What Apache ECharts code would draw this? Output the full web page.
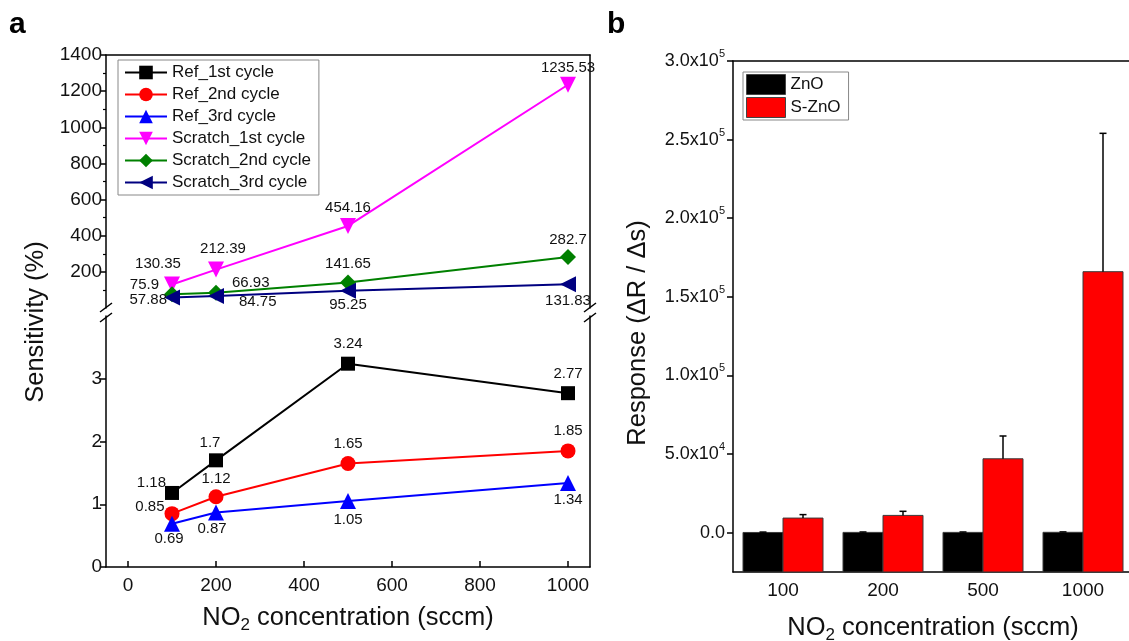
<!DOCTYPE html>
<html>
<head>
<meta charset="utf-8">
<script src="https://cdn.jsdelivr.net/npm/echarts@6/dist/echarts.min.js"></script>
<style>
  html, body { margin: 0; padding: 0; background: #fff; }
  #chart { width: 1129px; height: 641px; }
</style>
</head>
<body>
<div id="chart"></div>
<script>
// ---- panel a : sensitivity vs NO2 concentration ----
const concentrations = [100, 200, 500, 1000];
const ref1 = [1.18, 1.7, 3.24, 2.77];
const ref2 = [0.85, 1.12, 1.65, 1.85];
const ref3 = [0.69, 0.87, 1.05, 1.34];
const scratch1 = [130.35, 212.39, 454.16, 1235.53];
const scratch2 = [75.9, 84.75, 141.65, 282.7];
const scratch3 = [57.88, 66.93, 95.25, 131.83];
const topTicks = [200, 400, 600, 800, 1000, 1200, 1400];
const bottomTicks = [0, 1, 2, 3];
const xTicks = [0, 200, 400, 600, 800, 1000];

// ---- panel b : response bars ----
const categories = ['100', '200', '500', '1000'];
const zno = [150, 200, 200, 250];
const znoErr = [250, 250, 250, 250];
const sZno = [9300, 11000, 47000, 166000];
const sZnoErr = [2200, 2600, 14500, 88000];
const respTicks = [0, 50000, 100000, 150000, 200000, 250000, 300000];
const respMin = -25000;

const FONT = '"Liberation Sans", Arial, sans-serif';

// where each value label sits relative to its point
const labelPlace = {
  ref1: [['left', [6, -10]], ['top', [-6, 2]], ['top', [0, 0]], ['top', [0, 0]]],
  ref2: [['left', [5, -7]], ['top', [0, 2]], ['top', [0, 0]], ['top', [0, 0]]],
  ref3: [['bottom', [-3, -5]], ['bottom', [-4, -4]], ['bottom', [0, -2]], ['bottom', [0, -4]]],
  scratch1: [['top', [-14, 0]], ['top', [7, 0]], ['top', [0, 2]], ['top', [0, 4]]],
  scratch2: [['left', [0, -9]], ['right', [10, 9]], ['top', [0, 2]], ['top', [0, 3]]],
  scratch3: [['left', [8, 2]], ['right', [3, -13]], ['bottom', [0, -6]], ['bottom', [0, -4]]]
};

function lineSeries(name, values, color, symbol, rotate, grid, place) {
  return {
    name: name,
    type: 'line',
    xAxisIndex: grid === 0 ? 0 : 1,
    yAxisIndex: grid === 0 ? 0 : 2,
    symbol: symbol,
    symbolSize: symbol === 'circle' ? 15 : (symbol === 'rect' ? 14 : 16),
    symbolRotate: rotate,
    lineStyle: { color: color, width: 2 },
    itemStyle: { color: color },
    label: {
      show: true,
      fontFamily: FONT,
      fontSize: 15,
      color: '#111',
      formatter: p => p.value[1]
    },
    data: concentrations.map((c, i) => ({
      value: [c, values[i]],
      label: { position: place[i][0], offset: place[i][1] }
    })),
    z: 3
  };
}

function barRender(side) {
  return function (params, api) {
    const idx = api.value(0);
    const base = api.coord([idx, respMin]);
    const top = api.coord([idx, api.value(1)]);
    const w = api.size([1, 0])[0] * 0.4;
    const x = side < 0 ? base[0] - w : base[0];
    return {
      type: 'rect',
      shape: { x: x, y: top[1], width: w, height: base[1] - top[1] },
      style: { fill: api.visual('color'), stroke: '#3a3a3a', lineWidth: 1 }
    };
  };
}

function errRender(side) {
  return function (params, api) {
    const idx = api.value(0);
    const top = api.coord([idx, api.value(1)]);
    const hi = api.coord([idx, api.value(1) + api.value(2)]);
    const w = api.size([1, 0])[0] * 0.4;
    const cx = top[0] + side * w / 2;
    const st = { stroke: '#000', lineWidth: 1.5 };
    return {
      type: 'group',
      children: [
        { type: 'line', shape: { x1: cx, y1: top[1], x2: cx, y2: hi[1] }, style: st },
        { type: 'line', shape: { x1: cx - 3.5, y1: hi[1], x2: cx + 3.5, y2: hi[1] }, style: st }
      ]
    };
  };
}

function sciLabel(v) {
  if (v === 0) return '{m|0.0}';
  const e = Math.floor(Math.log10(v));
  const m = (v / Math.pow(10, e)).toFixed(1);
  return '{m|' + m + 'x10}{s|' + e + '}';
}

const plain = v => String(v);
const tickText = { fontFamily: FONT, fontSize: 19, color: '#111', formatter: plain };
const black = { color: '#000', width: 1.5 };
const breakStyle = { stroke: '#000', lineWidth: 1.5 };
const nameRich = {
  a: { fontFamily: FONT, fontSize: 25.5, color: '#111' },
  b: { fontFamily: FONT, fontSize: 17, color: '#111', padding: [15, 0, 0, 0] }
};

function breakMarks(x) {
  return [
    { type: 'line', shape: { x1: x - 6, y1: 312, x2: x + 6, y2: 303 }, style: breakStyle, z: 11 },
    { type: 'line', shape: { x1: x - 6, y1: 322, x2: x + 6, y2: 313 }, style: breakStyle, z: 11 }
  ];
}

const chart = echarts.init(document.getElementById('chart'));
chart.setOption({
  backgroundColor: '#fff',
  animation: false,
  textStyle: { fontFamily: FONT },
  grid: [
    { left: 106, top: 55, width: 484, height: 253, outerBoundsMode: 'none' },
    { left: 106, top: 316, width: 484, height: 251, outerBoundsMode: 'none' },
    { left: 733, top: 61, width: 400, height: 511, outerBoundsMode: 'none' }
  ],
  legend: [
    {
      left: 118, top: 60, orient: 'vertical',
      itemWidth: 42, itemHeight: 17, itemGap: 5,
      padding: [4, 8, 4, 6],
      borderColor: '#888', borderWidth: 1,
      textStyle: { fontFamily: FONT, fontSize: 17, color: '#111' },
      data: ['Ref_1st cycle', 'Ref_2nd cycle', 'Ref_3rd cycle',
             'Scratch_1st cycle', 'Scratch_2nd cycle', 'Scratch_3rd cycle']
    },
    {
      left: 743, top: 72, orient: 'vertical',
      itemWidth: 39, itemHeight: 20, itemGap: 2,
      padding: [2, 8, 2, 3],
      borderColor: '#888', borderWidth: 1,
      itemStyle: { borderColor: '#444', borderWidth: 1 },
      textStyle: { fontFamily: FONT, fontSize: 17, color: '#111' },
      data: [{ name: 'ZnO', icon: 'rect' }, { name: 'S-ZnO', icon: 'rect' }]
    }
  ],
  xAxis: [
    {
      gridIndex: 0, type: 'value', min: -50, max: 1050, position: 'top',
      axisLine: { show: true, onZero: false, lineStyle: black },
      axisTick: { show: false }, axisLabel: { show: false }, splitLine: { show: false }
    },
    {
      gridIndex: 1, type: 'value', min: -50, max: 1050, position: 'bottom',
      axisLine: { show: true, onZero: false, lineStyle: black },
      axisTick: { show: true, inside: true, length: 6, customValues: xTicks, lineStyle: black },
      axisLabel: Object.assign({ customValues: xTicks, margin: 9 }, tickText),
      splitLine: { show: false },
      name: '{a|NO}{b|2}{a| concentration (sccm)}',
      nameLocation: 'middle', nameGap: 35,
      nameTextStyle: { rich: nameRich }
    },
    {
      gridIndex: 2, type: 'category', data: categories, position: 'bottom',
      axisLine: { show: true, onZero: false, lineStyle: black },
      axisTick: { show: false },
      axisLabel: Object.assign({ margin: 9 }, tickText),
      name: '{a|NO}{b|2}{a| concentration (sccm)}',
      nameLocation: 'middle', nameGap: 40,
      nameTextStyle: { rich: nameRich }
    },
    {
      gridIndex: 2, type: 'category', data: categories, position: 'top',
      axisLine: { show: true, onZero: false, lineStyle: black },
      axisTick: { show: false }, axisLabel: { show: false }
    }
  ],
  yAxis: [
    {
      gridIndex: 0, type: 'value', min: 0, max: 1400, interval: 200,
      axisLine: { show: true, onZero: false, lineStyle: black },
      axisTick: { show: true, length: 6, customValues: topTicks, lineStyle: black },
      minorTick: { show: true, splitNumber: 2, length: 3, lineStyle: { color: '#000', width: 1.2 } },
      axisLabel: Object.assign({ customValues: topTicks, margin: 4 }, tickText),
      splitLine: { show: false }
    },
    {
      gridIndex: 0, type: 'value', position: 'right',
      axisLine: { show: true, onZero: false, lineStyle: black },
      axisTick: { show: false }, axisLabel: { show: false }, splitLine: { show: false }
    },
    {
      gridIndex: 1, type: 'value', min: 0, max: 4, interval: 1,
      axisLine: { show: true, onZero: false, lineStyle: black },
      axisTick: { show: true, length: 6, customValues: bottomTicks, lineStyle: black },
      axisLabel: Object.assign({ customValues: bottomTicks, margin: 4 }, tickText),
      splitLine: { show: false }
    },
    {
      gridIndex: 1, type: 'value', position: 'right',
      axisLine: { show: true, onZero: false, lineStyle: black },
      axisTick: { show: false }, axisLabel: { show: false }, splitLine: { show: false }
    },
    {
      gridIndex: 2, type: 'value', min: respMin, max: 300000,
      axisLine: { show: true, onZero: false, lineStyle: black },
      axisTick: { show: true, length: 6, customValues: respTicks, lineStyle: black },
      axisLabel: {
        customValues: respTicks, margin: 8,
        formatter: sciLabel,
        rich: {
          m: { fontFamily: FONT, fontSize: 18, color: '#111' },
          s: { fontFamily: FONT, fontSize: 11, color: '#111', padding: [0, 0, 14, 0] }
        }
      },
      splitLine: { show: false }
    }
  ],
  series: [
    lineSeries('Ref_1st cycle', ref1, '#000000', 'rect', 0, 1, labelPlace.ref1),
    lineSeries('Ref_2nd cycle', ref2, '#ff0000', 'circle', 0, 1, labelPlace.ref2),
    lineSeries('Ref_3rd cycle', ref3, '#0000ff', 'triangle', 0, 1, labelPlace.ref3),
    lineSeries('Scratch_1st cycle', scratch1, '#ff00ff', 'triangle', 180, 0, labelPlace.scratch1),
    lineSeries('Scratch_2nd cycle', scratch2, '#008000', 'diamond', 0, 0, labelPlace.scratch2),
    lineSeries('Scratch_3rd cycle', scratch3, '#000080', 'triangle', 90, 0, labelPlace.scratch3),
    {
      name: 'ZnO', type: 'custom', xAxisIndex: 2, yAxisIndex: 4,
      itemStyle: { color: '#000000' },
      renderItem: barRender(-1),
      encode: { x: 0, y: 1 },
      data: zno.map((v, i) => [i, v])
    },
    {
      name: 'S-ZnO', type: 'custom', xAxisIndex: 2, yAxisIndex: 4,
      itemStyle: { color: '#ff0000' },
      renderItem: barRender(1),
      encode: { x: 0, y: 1 },
      data: sZno.map((v, i) => [i, v])
    },
    {
      name: 'ZnO error', type: 'custom', xAxisIndex: 2, yAxisIndex: 4,
      renderItem: errRender(-1), encode: { x: 0, y: 1 }, z: 4,
      data: zno.map((v, i) => [i, v, znoErr[i]])
    },
    {
      name: 'S-ZnO error', type: 'custom', xAxisIndex: 2, yAxisIndex: 4,
      renderItem: errRender(1), encode: { x: 0, y: 1 }, z: 4,
      data: sZno.map((v, i) => [i, v, sZnoErr[i]])
    }
  ],
  graphic: [
    // panel letters
    { type: 'text', left: 9, top: 10, style: { text: 'a', font: 'bold 30px ' + FONT, fill: '#000' } },
    { type: 'text', left: 607, top: 10, style: { text: 'b', font: 'bold 30px ' + FONT, fill: '#000' } },
    // y axis names
    {
      type: 'text', x: 36, y: 322, rotation: Math.PI / 2,
      style: { text: 'Sensitivity (%)', font: '25.5px ' + FONT, fill: '#111', align: 'center', verticalAlign: 'middle' }
    },
    {
      type: 'text', x: 638, y: 333, rotation: Math.PI / 2,
      style: { text: 'Response (\u0394R / \u0394s)', font: '25.5px ' + FONT, fill: '#111', align: 'center', verticalAlign: 'middle' }
    },
    // axis break gaps and marks
    { type: 'rect', shape: { x: 100, y: 309, width: 12, height: 6 }, style: { fill: '#fff' }, z: 10 },
    { type: 'rect', shape: { x: 584, y: 309, width: 12, height: 6 }, style: { fill: '#fff' }, z: 10 }
  ].concat(breakMarks(106)).concat(breakMarks(590))
});
</script>
</body>
</html>
